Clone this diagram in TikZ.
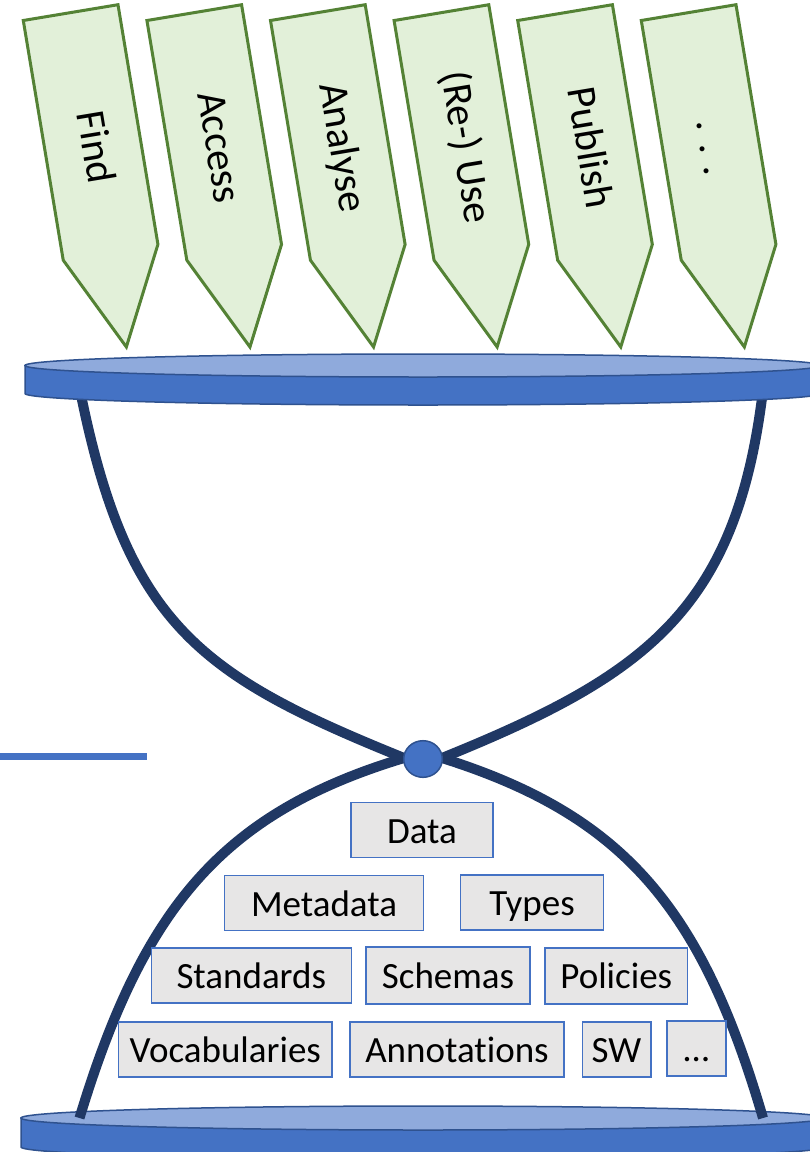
\documentclass[tikz,border=0pt]{standalone}
\usepackage{fontspec}
\setmainfont[Ligatures=NoCommon]{Carlito}
\usetikzlibrary{shapes.geometric}
\definecolor{arrowfill}{HTML}{E2F0D9}
\definecolor{arrowline}{HTML}{548235}
\definecolor{discface}{HTML}{8FAADC}
\definecolor{discside}{HTML}{4472C4}
\definecolor{discline}{HTML}{2F528F}
\definecolor{glass}{HTML}{203864}
\definecolor{boxfill}{HTML}{E7E6E6}
\definecolor{boxline}{HTML}{4472C4}
\tikzset{
  labelbox/.style={draw=boxline, line width=1.5pt, fill=boxfill, minimum height=55pt,
    inner sep=0pt, font=\fontsize{37}{40}\selectfont, text=black,
    text height=30pt, text depth=4pt},
  arrowshape/.style={fill=arrowfill, draw=arrowline, line width=3pt, line join=miter},
  arrowtext/.style={font=\fontsize{41.5}{45}\selectfont, rotate=-80.54, inner sep=0pt, text=black,
    text height=28pt, text depth=7pt},
  glassline/.style={draw=glass, line width=10pt},
  discsidestyle/.style={fill=discside, draw=discline, line width=1.5pt},
  discfacestyle/.style={fill=discface, draw=discline, line width=1.5pt},
}
\begin{document}
\begin{tikzpicture}[x=1pt,y=1pt]
\useasboundingbox (0,0) rectangle (810,-1152);
\fill[white] (0,0) rectangle (810,-1152);

% left accent line
\coordinate (lineA) at (0,-756);
\coordinate (lineB) at (147,-756);
\draw[discside, line width=7pt] (lineA) -- (lineB);

% bottom disc
\path[discsidestyle] (21,-1118) -- (21,-1147) arc[start angle=180,end angle=360,x radius=402,y radius=12] -- (825,-1118) -- cycle;
\path[discfacestyle] (423,-1118) ellipse[x radius=402,y radius=12];

% hourglass curves
\coordinate (ulTop) at (80,-390);
\coordinate (urTop) at (763,-390);
\coordinate (llBot) at (79.5,-1118);
\coordinate (lrBot) at (763,-1118);
\coordinate (hubW) at (404,-758);
\coordinate (hubE) at (442,-758);
\draw[glassline] (ulTop) .. controls (127,-625) and (200,-675.5) .. (hubW);
\draw[glassline] (urTop) .. controls (736.6,-610) and (646,-675.5) .. (hubE);
\draw[glassline] (hubW) .. controls (222,-813) and (143.3,-907.5) .. (llBot);
\draw[glassline] (hubE) .. controls (623,-815) and (701.4,-906.8) .. (lrBot);

% top disc
\path[discsidestyle] (25,-365.5) -- (25,-393.5) arc[start angle=180,end angle=360,x radius=398,y radius=11.5] -- (821,-365.5) -- cycle;
\path[discfacestyle] (423,-365.5) ellipse[x radius=398,y radius=11.5];

% hub
\node[ellipse, fill=discside, draw=discline, line width=1.5pt, minimum width=38.6pt, minimum height=36.6pt, inner sep=0pt] (hub) at (423,-759) {};

% boxes
\node[labelbox, minimum width=142pt] (data) at (422,-830) {Data};
\node[labelbox, minimum width=199pt] (metadata) at (324,-903) {Metadata};
\node[labelbox, minimum width=143pt] (types) at (532,-902.5) {Types};
\node[labelbox, minimum width=200pt] (standards) at (251.3,-975.5) {Standards};
\node[labelbox, minimum width=164pt, minimum height=57pt] (schemas) at (448,-975.5) {Schemas};
\node[labelbox, minimum width=142.5pt, minimum height=56pt] (policies) at (616.3,-975.8) {Policies};
\node[labelbox, minimum width=213.5pt] (vocab) at (225.3,-1049.3) {Vocabularies};
\node[labelbox, minimum width=214pt] (annot) at (457,-1049.3) {Annotations};
\node[labelbox, minimum width=68.5pt] (sw) at (616.5,-1049.3) {SW};
\node[labelbox, minimum width=59pt] (more) at (696.5,-1048.5) {…};

% arrows
\foreach \x/\lab [count=\i] in {23.3/Find, 146.9/Access, 270.5/Analyse, 394.1/{(Re-) Use}, 517.7/Publish, 641.3/{. . .}} {
  \begin{scope}[shift={(\x,-20.5)}, rotate=9.46]
    \path[arrowshape] (0,0) -- (96,0) -- (96,-243) -- (48,-339) -- (0,-243) -- cycle;
    \node[arrowtext] (arrow\i) at (48,-137) {\lab};
  \end{scope}
}
\end{tikzpicture}
\end{document}
